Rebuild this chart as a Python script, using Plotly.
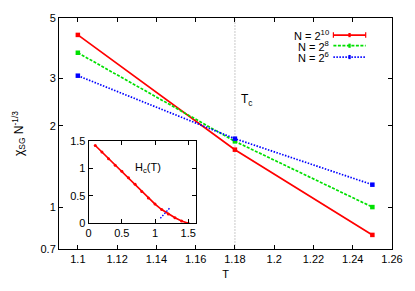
import plotly.graph_objects as go

T = [1.10, 1.18, 1.25]
chi_N10 = [4.33, 1.63, 0.789]
chi_N8 = [3.72, 1.75, 1.00]
chi_N6 = [3.06, 1.79, 1.21]
series_names = ["N = 2<sup>10</sup>", "N = 2<sup>8</sup>", "N = 2<sup>6</sup>"]
Tc = 1.18

inset_T = [0.1, 0.2, 0.3, 0.4, 0.5, 0.6, 0.7, 0.8, 0.9, 1.0, 1.1, 1.2, 1.3, 1.4, 1.5]
inset_Hc = [1.42, 1.30, 1.18, 1.06, 0.95, 0.83, 0.71, 0.58, 0.46, 0.35, 0.25, 0.17, 0.10, 0.04, 0.0]
inset_blue_T = [1.08, 1.23]
inset_blue_H = [0.09, 0.29]

x_ticks = [1.1, 1.12, 1.14, 1.16, 1.18, 1.2, 1.22, 1.24, 1.26]
y_ticks = [0.7, 1, 2, 3, 5]

RED = "#ff0000"
GREEN = "#00e000"
BLUE = "#0000ff"
GREEN_DASH = "3px,1.5px"
BLUE_DASH = "1.5px,1.5px"
FONT = "Liberation Sans, Arial, sans-serif"

fig = go.Figure()

# Tc vertical line
fig.add_trace(go.Scatter(x=[Tc, Tc], y=[0.7, 5], mode="lines",
                         line=dict(color="#dcdcdc", width=1.5, dash="2px,1px"),
                         showlegend=False, hoverinfo="skip"))

styles = [(chi_N10, RED, "solid"), (chi_N8, GREEN, GREEN_DASH), (chi_N6, BLUE, BLUE_DASH)]
for (vals, col, dash), name in zip(styles, series_names):
    fig.add_trace(go.Scatter(x=T, y=vals, mode="lines+markers", name=name,
                             line=dict(color=col, width=1.7, dash=dash),
                             marker=dict(color=col, size=4.5, symbol="square"),
                             showlegend=False))

# inset
fig.add_trace(go.Scatter(x=inset_T, y=inset_Hc, mode="lines+markers",
                         line=dict(color=RED, width=1.7),
                         marker=dict(color=RED, size=3),
                         xaxis="x2", yaxis="y2", showlegend=False))
fig.add_trace(go.Scatter(x=inset_blue_T, y=inset_blue_H, mode="lines",
                         line=dict(color=BLUE, width=1.4, dash=BLUE_DASH),
                         xaxis="x2", yaxis="y2", showlegend=False))

axis_common = dict(showline=True, linecolor="black", linewidth=1, mirror="ticks",
                   ticks="inside", ticklen=4, tickcolor="black", showgrid=False,
                   zeroline=False, ticklabeloverflow="allow",
                   tickfont=dict(size=11, color="black", family=FONT))

fig.update_layout(
    width=415, height=291,
    margin=dict(l=59, r=19, t=14, b=35),
    paper_bgcolor="white", plot_bgcolor="white",
    font=dict(family=FONT, size=11, color="black"),
    xaxis=dict(range=[1.0904, 1.26], tickvals=x_ticks,
               ticktext=[f"{v:g}" for v in x_ticks],
               title=dict(text="T", font=dict(size=11), standoff=6), **axis_common),
    yaxis=dict(type="log", range=[0.699 - 0.854, 0.699], tickvals=y_ticks,
               ticktext=[f"{v:g}" for v in y_ticks],
               title=dict(text="χ<sub>SG</sub> N<sup>-1/3</sup>", font=dict(size=12), standoff=14),
               **axis_common),
    xaxis2=dict(domain=[0.089, 0.412], anchor="y2", range=[0, 1.62],
                tickvals=[0, 0.5, 1, 1.5], ticktext=["0", "0.5", "1", "1.5"], **axis_common),
    yaxis2=dict(domain=[0.1116, 0.467], anchor="x2", range=[0, 1.5],
                tickvals=[0, 0.5, 1, 1.5], ticktext=["0", "0.5", "1", "1.5"], **axis_common),
    showlegend=False,
)

# inset white background
fig.add_shape(type="rect", xref="x2 domain", yref="y2 domain", x0=0, x1=1, y0=0, y1=1,
              fillcolor="white", line=dict(width=0), layer="below")

fig.add_annotation(x=Tc + 0.002, y=0.395, xref="x", yref="y", yanchor="middle", xanchor="left",
                   text="T<sub>c</sub>", showarrow=False, font=dict(size=12))
fig.add_annotation(x=0.89, y=1.0, xref="x2", yref="y2", text="H<sub>c</sub>(T)",
                   showarrow=False, font=dict(size=11))

# custom legend (text left of sample)
leg_y = [0.926, 0.880, 0.831]
for (vals, col, dash), name, ly in zip(styles, series_names, leg_y):
    fig.add_annotation(x=0.817, y=ly, xref="paper", yref="paper", xanchor="right",
                       yanchor="middle", text=name, showarrow=False, font=dict(size=11))
    fig.add_shape(type="line", xref="paper", yref="paper", x0=0.824, x1=0.921, y0=ly, y1=ly,
                  line=dict(color=col, width=1.7, dash=dash))
    fig.add_shape(type="rect", xref="paper", yref="paper", x0=0.869, x1=0.876,
                  y0=ly - 0.009, y1=ly + 0.009, fillcolor=col, line=dict(width=0))
    if dash == "solid":
        for xe in (0.824, 0.921):
            fig.add_shape(type="line", xref="paper", yref="paper", x0=xe, x1=xe,
                          y0=ly - 0.012, y1=ly + 0.012, line=dict(color=col, width=1.2))

fig.write_html("out.html", config={"displayModeBar": False},
               post_script="document.body.style.margin='0px';")
